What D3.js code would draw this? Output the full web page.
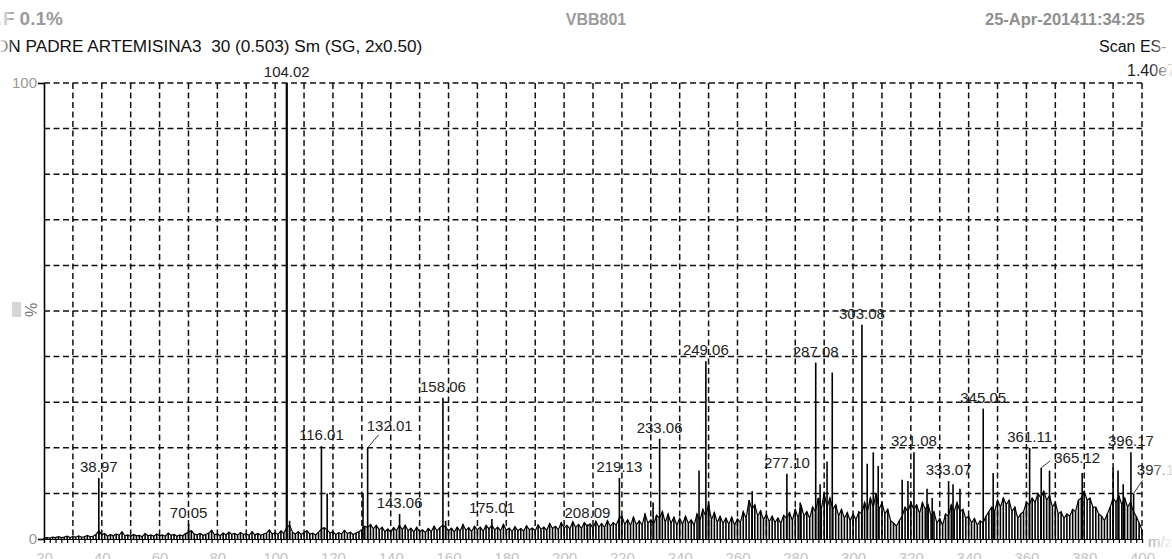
<!DOCTYPE html>
<html>
<head>
<meta charset="utf-8">
<script src="https://cdn.jsdelivr.net/npm/d3@7"></script>
<style>
body{margin:0;background:#fff;}
svg{display:block;font-family:"Liberation Sans",Arial,sans-serif;}
text{white-space:pre;}
</style>
</head>
<body>
<div id="chart"></div>
<script>
// spectrum: m/z vs relative abundance (%)
var noise = [
  [20,0.2],[21,0.3],[22,0.2],[23,0.4],[24,0.3],[25,0.5],[26,0.3],[27,0.4],[28,0.6],[29,0.3],
  [30,0.5],[31,0.4],[32,0.7],[33,0.4],[34,0.5],[35,0.8],[36,0.5],[37,0.6],[38,1.0],[39,1.8],
  [40,0.9],[41,1.2],[42,0.6],[43,1.0],[44,0.7],[45,1.1],[46,0.8],[47,1.6],[48,0.7],[49,0.9],
  [50,0.6],[51,1.0],[52,0.7],[53,0.8],[54,0.5],[55,1.2],[56,0.7],[57,0.9],[58,0.6],[59,1.1],
  [60,0.7],[61,0.9],[62,0.6],[63,1.3],[64,0.8],[65,1.0],[66,0.6],[67,0.9],[68,0.7],[69,1.2],
  [70,1.5],[71,1.8],[72,1.1],[73,0.9],[74,1.2],[75,0.8],[76,1.0],[77,1.3],[78,1.9],[79,0.9],
  [80,1.1],[81,0.7],[82,1.3],[83,0.9],[84,1.5],[85,1.0],[86,1.2],[87,0.8],[88,1.4],[89,1.0],
  [90,1.1],[91,0.8],[92,1.6],[93,0.9],[94,1.2],[95,0.8],[96,1.1],[97,1.3],[98,2.0],[99,1.1],
  [100,1.4],[101,1.0],[102,1.8],[103,1.2],[104,2.5],[105,3.0],[106,1.5],[107,1.1],[108,1.6],[109,1.0],
  [110,1.4],[111,1.8],[112,1.1],[113,1.3],[114,0.9],[115,1.5],[116,2.2],[117,2.5],[118,2.0],[119,1.3],
  [120,1.6],[121,1.0],[122,1.4],[123,1.1],[124,1.9],[125,1.2],[126,1.5],[127,1.0],[128,1.3],[129,1.6],
  [130,2.0],[131,2.8],[132,2.5],[133,3.2],[134,2.2],[135,3.0],[136,2.0],[137,2.6],[138,1.6],[139,2.2],
  [140,1.5],[141,2.5],[142,1.8],[143,3.0],[144,2.0],[145,3.0],[146,1.8],[147,2.4],[148,1.5],[149,2.6],
  [150,1.6],[151,2.0],[152,1.4],[153,2.3],[154,1.6],[155,2.8],[156,1.8],[157,2.5],[158,3.0],[159,2.6],
  [160,1.8],[161,2.4],[162,1.5],[163,2.6],[164,1.7],[165,3.2],[166,1.9],[167,2.5],[168,1.6],[169,2.8],
  [170,2.0],[171,2.6],[172,1.7],[173,3.0],[174,2.2],[175,3.0],[176,2.0],[177,2.6],[178,1.8],[179,3.2],
  [180,1.9],[181,2.4],[182,1.6],[183,2.7],[184,1.8],[185,2.3],[186,1.7],[187,2.9],[188,2.0],[189,2.4],
  [190,1.8],[191,3.1],[192,2.1],[193,2.6],[194,1.9],[195,3.4],[196,2.3],[197,2.8],[198,2.0],[199,3.6],
  [200,2.4],[201,3.0],[202,2.2],[203,3.8],[204,2.5],[205,3.2],[206,2.3],[207,3.6],[208,2.8],[209,3.3],
  [210,2.4],[211,3.9],[212,2.6],[213,3.4],[214,2.5],[215,4.0],[216,2.8],[217,3.6],[218,3.0],[219,4.5],
  [220,5.0],[221,3.2],[222,4.2],[223,2.9],[224,4.8],[225,3.1],[226,4.0],[227,3.0],[228,5.5],[229,3.4],
  [230,4.2],[231,3.2],[232,5.2],[233,4.5],[234,6.0],[235,3.6],[236,5.5],[237,3.4],[238,4.8],[239,3.0],
  [240,4.5],[241,3.2],[242,5.0],[243,3.4],[244,4.2],[245,3.0],[246,5.5],[247,4.0],[248,6.5],[249,5.0],
  [250,7.5],[251,4.2],[252,5.8],[253,3.6],[254,5.0],[255,3.4],[256,4.6],[257,3.2],[258,4.8],[259,3.0],
  [260,4.4],[261,3.6],[262,6.0],[263,4.5],[264,8.5],[265,6.5],[266,7.5],[267,5.0],[268,6.2],[269,4.2],
  [270,5.4],[271,3.8],[272,5.0],[273,3.6],[274,4.6],[275,3.4],[276,5.2],[277,4.5],[278,5.8],[279,4.0],
  [280,6.5],[281,4.6],[282,7.5],[283,5.0],[284,6.0],[285,4.5],[286,7.0],[287,6.0],[288,9.0],[289,6.5],
  [290,10],[291,7.0],[292,9.0],[293,6.5],[294,7.5],[295,5.0],[296,6.5],[297,4.5],[298,5.8],[299,4.0],
  [300,5.5],[301,4.2],[302,6.0],[303,5.5],[304,8.0],[305,6.0],[306,9.0],[307,7.0],[308,10],[309,6.5],
  [310,8.0],[311,5.5],[312,6.5],[313,4.0],[314,3.5],[315,2.8],[316,4.0],[317,5.0],[318,7.0],[319,6.0],
  [320,8.0],[321,6.5],[322,7.5],[323,5.5],[324,8.0],[325,6.5],[326,7.5],[327,5.0],[328,6.0],[329,3.5],
  [330,4.5],[331,3.0],[332,5.5],[333,5.0],[334,7.5],[335,6.0],[336,8.0],[337,6.0],[338,6.5],[339,4.5],
  [340,5.0],[341,3.5],[342,4.5],[343,3.0],[344,4.0],[345,3.5],[346,5.0],[347,6.0],[348,7.0],[349,6.0],
  [350,8.5],[351,7.0],[352,9.0],[353,7.5],[354,8.5],[355,6.0],[356,7.0],[357,4.5],[358,5.5],[359,6.0],
  [360,8.0],[361,7.5],[362,9.0],[363,8.0],[364,10],[365,9.0],[366,10.5],[367,8.5],[368,9.5],[369,7.0],
  [370,8.0],[371,5.5],[372,6.0],[373,4.5],[374,5.5],[375,5.0],[376,6.5],[377,6.0],[378,8.5],[379,9.0],
  [380,10.5],[381,8.5],[382,9.0],[383,7.0],[384,7.0],[385,5.5],[386,5.0],[387,4.0],[388,5.5],[389,7.0],
  [390,9.0],[391,8.0],[392,9.5],[393,7.5],[394,9.0],[395,7.0],[396,8.0],[397,6.0],[398,5.0],[399,3.5],
  [400,2.0]
];

var peaks = [
  [38.97,13.4],[70.05,3.3],[104.02,100],[105.0,4],[116.01,20.4],[118.0,10],[130.4,10],[132.01,20],
  [143.06,5.5],[158.06,31],[159.0,4],[175.01,4.4],[208.09,3.2],[219.13,13.4],[230.8,8],[233.06,22],
  [246.7,15],[249.06,39],[250.0,8],[265.1,10.5],[277.10,14.3],[281.7,8],[287.08,38.7],[288.6,12],
  [291.0,17],[292.8,36.5],[303.08,47],[304.9,16.5],[307.0,19],[308.7,16],[317.0,13],[319.0,12.7],
  [321.08,19],[325.6,11],[327.4,9],[333.07,12.7],[334.6,12],[337.0,11],[345.05,28.6],[348.5,14.5],
  [361.11,20],[365.12,15.6],[368.0,15],[379.3,14.5],[390.0,15.6],[391.7,15],[393.5,12],[396.17,19],[397.1,10]
];

var labelMz = [38.97,70.05,104.02,116.01,132.01,143.06,158.06,175.01,208.09,219.13,233.06,249.06,
  277.10,287.08,303.08,321.08,333.07,345.05,361.11,365.12,396.17,397.1];
var labelText = ["38.97","70.05","104.02","116.01","132.01","143.06","158.06","175.01","208.09","219.13",
  "233.06","249.06","277.10","287.08","303.08","321.08","333.07","345.05","361.11","365.12","396.17","397.1"];

var xTicks = d3.range(20, 401, 20);

var w = 1172, h = 559;
var svg = d3.select("#chart").append("svg")
  .attr("width", w)
  .attr("height", h);

var x = d3.scaleLinear().domain([20, 400]).range([44, 1142]);
var y = d3.scaleLinear().domain([0, 100]).range([539, 83]);

// dashed grid
svg.append("g").selectAll("line")
  .data(d3.range(10, 101, 10))
  .enter().append("line")
  .attr("x1", x(20)).attr("x2", x(400))
  .attr("y1", function(d){ return y(d); })
  .attr("y2", function(d){ return y(d); })
  .attr("stroke", "#111")
  .attr("stroke-width", 1.5)
  .attr("stroke-dasharray", "6,3.5");
svg.append("g").selectAll("line")
  .data(d3.range(30, 401, 10))
  .enter().append("line")
  .attr("x1", function(d){ return x(d); })
  .attr("x2", function(d){ return x(d); })
  .attr("y1", y(100)).attr("y2", y(0))
  .attr("stroke", "#111")
  .attr("stroke-width", 1.5)
  .attr("stroke-dasharray", "6,3.5");

// noise forest
svg.append("g").selectAll("line")
  .data(noise)
  .enter().append("line")
  .attr("x1", function(d){ return x(d[0]); })
  .attr("x2", function(d){ return x(d[0]); })
  .attr("y1", y(0))
  .attr("y2", function(d){ return y(d[1]); })
  .attr("stroke", "#000")
  .attr("stroke-width", 1.6);
svg.append("path")
  .datum(noise)
  .attr("fill", "none")
  .attr("stroke", "#000")
  .attr("stroke-width", 1.2)
  .attr("d", d3.line().x(function(d){ return x(d[0]); }).y(function(d){ return y(d[1]); }));

// peaks
svg.append("g").selectAll("line")
  .data(peaks)
  .enter().append("line")
  .attr("x1", function(d){ return x(d[0]); })
  .attr("x2", function(d){ return x(d[0]); })
  .attr("y1", y(0))
  .attr("y2", function(d){ return y(d[1]); })
  .attr("stroke", "#000")
  .attr("stroke-width", function(d){ return d[1] > 90 ? 2.2 : 1.6; });

// axes
svg.append("g")
  .attr("transform", "translate(0," + y(0) + ")")
  .call(d3.axisBottom(x).tickValues(d3.range(20, 401, 2)).tickSize(4).tickFormat(""))
  .call(function(g){ g.selectAll("line,path").attr("stroke", "#000").attr("stroke-width", 1.2); });
var xLab = svg.append("g")
  .attr("transform", "translate(0," + y(0) + ")")
  .call(d3.axisBottom(x).tickValues(xTicks).tickSize(0).tickPadding(13));
xLab.select(".domain").remove();
xLab.selectAll("text").attr("fill", "#c4c4c4").attr("font-size", 15).attr("font-family", "Liberation Sans, Arial");

var yAx = svg.append("g")
  .attr("transform", "translate(" + x(20) + ",0)")
  .call(d3.axisLeft(y).tickValues([0, 100]).tickSize(6).tickPadding(1).tickSizeOuter(0));
yAx.selectAll("line,path").attr("stroke", "#000").attr("stroke-width", 1.6);
yAx.selectAll("text").attr("fill", "#9a9a9a").attr("font-size", 15).attr("font-family", "Liberation Sans, Arial");

// peak labels
var nudge = {"132.01": [22, -17, 11, -13], "365.12": [36, -5, 9, -7], "397.1": [22, -18, 9, -13]};
var lab = svg.append("g").attr("font-size", 15).attr("fill", "#222");
labelMz.forEach(function(mz, i){
  var pk = peaks.filter(function(p){ return p[0] === mz; })[0];
  var px = x(mz), py = y(pk[1]);
  var n = nudge[labelText[i]];
  if(n){
    lab.append("line")
      .attr("x1", px).attr("y1", py)
      .attr("x2", px + n[2]).attr("y2", py + n[3])
      .attr("stroke", "#333").attr("stroke-width", 1);
    lab.append("text")
      .attr("x", px + n[0]).attr("y", py + n[1])
      .attr("text-anchor", "middle")
      .text(labelText[i]);
  } else {
    lab.append("text")
      .attr("x", px).attr("y", py - 6)
      .attr("text-anchor", "middle")
      .text(labelText[i]);
  }
});

// header
svg.append("text").attr("x", -11).attr("y", 25).attr("font-size", 19).attr("font-weight", "bold")
  .attr("fill", "#9b9b9b").text("AF 0.1%");
svg.append("text").attr("x", 596).attr("y", 25).attr("text-anchor", "middle").attr("font-size", 16)
  .attr("font-weight", "bold").attr("fill", "#9b9b9b").text("VBB801");
svg.append("text").attr("x", 985).attr("y", 25).attr("font-size", 16.5).attr("font-weight", "bold")
  .attr("fill", "#8f8f8f").text("25-Apr-201411:34:25");
svg.append("text").attr("x", -5).attr("y", 52).attr("font-size", 17.2).attr("fill", "#111")
  .text("ON PADRE ARTEMISINA3  30 (0.503) Sm (SG, 2x0.50)");
svg.append("text").attr("x", 1099).attr("y", 52).attr("font-size", 16).attr("fill", "#111").text("Scan ES-");
svg.append("text").attr("x", 1127).attr("y", 76).attr("font-size", 16).attr("fill", "#222").text("1.40e7");
svg.append("text").attr("x", 1148).attr("y", 547).attr("font-size", 15).attr("fill", "#aaa").text("m/z");

// "%" mark on the y axis
svg.append("rect").attr("x", 12).attr("y", 302).attr("width", 9).attr("height", 15).attr("fill", "#d6d6d6");
svg.append("text").attr("transform", "translate(37,310) rotate(-90)").attr("text-anchor", "middle")
  .attr("font-size", 16).attr("fill", "#777").text("%");

// faded scan edges
var defs = svg.append("defs");
var gr = defs.append("linearGradient").attr("id", "fadeR");
gr.append("stop").attr("offset", "0%").attr("stop-color", "#fff").attr("stop-opacity", 0);
gr.append("stop").attr("offset", "100%").attr("stop-color", "#fff").attr("stop-opacity", 0.9);
var gl = defs.append("linearGradient").attr("id", "fadeL");
gl.append("stop").attr("offset", "0%").attr("stop-color", "#fff").attr("stop-opacity", 0.9);
gl.append("stop").attr("offset", "100%").attr("stop-color", "#fff").attr("stop-opacity", 0);
svg.append("rect").attr("x", 1150).attr("y", 0).attr("width", 22).attr("height", h).attr("fill", "url(#fadeR)");
svg.append("rect").attr("x", 0).attr("y", 0).attr("width", 14).attr("height", 80).attr("fill", "url(#fadeL)");
</script>
</body>
</html>
